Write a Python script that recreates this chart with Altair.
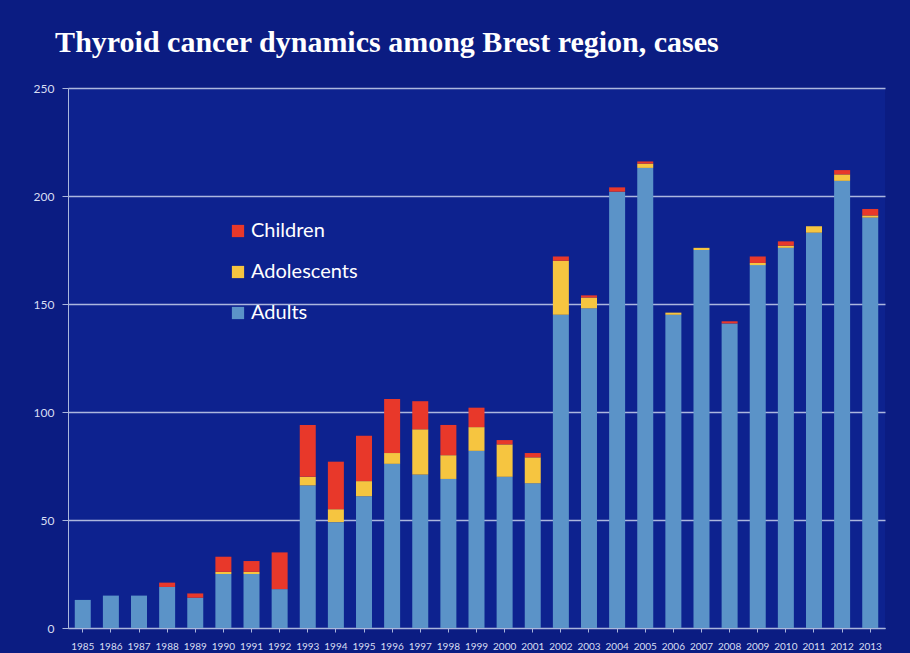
import altair as alt
import pandas as pd

years = [str(y) for y in range(1985, 2014)]
adults = [13, 15, 15, 19, 14, 25, 25, 18, 66, 49, 61, 76, 71, 69, 82, 70, 67,
          145, 148, 202, 213, 145, 175, 141, 168, 176, 183, 207, 190]
adolescents = [0, 0, 0, 0, 0, 1, 1, 0, 4, 6, 7, 5, 21, 11, 11, 15, 12,
               25, 5, 0, 2, 1, 1, 0, 1, 1, 3, 3, 1]
children = [0, 0, 0, 2, 2, 7, 5, 17, 24, 22, 21, 25, 13, 14, 9, 2, 2,
            2, 1, 2, 1, 0, 0, 1, 3, 2, 0, 2, 3]

groups = ["Children", "Adolescents", "Adults"]
colors = ["#e8382a", "#f6c540", "#5b93c8"]
stack_rank = {"Adults": 0, "Adolescents": 1, "Children": 2}

rows = []
for i, y in enumerate(years):
    for g, vals in (("Adults", adults), ("Adolescents", adolescents), ("Children", children)):
        rows.append({"year": y, "group": g, "cases": vals[i], "rank": stack_rank[g]})
df = pd.DataFrame(rows)

label_font = "Lato"

chart = alt.Chart(df).mark_bar(size=16).encode(
    x=alt.X("year:N", title=None, sort=years,
            scale=alt.Scale(paddingInner=0.45, paddingOuter=0.25),
            axis=alt.Axis(labelAngle=0, labelFontSize=10, labelColor="#d8def2",
                          labelFont=label_font, domainColor="#aab6dc", tickColor="#aab6dc",
                          tickSize=4, labelPadding=9, grid=False)),
    y=alt.Y("cases:Q", title=None, stack="zero",
            scale=alt.Scale(domain=[0, 250], nice=False),
            axis=alt.Axis(values=[0, 50, 100, 150, 200, 250], labelFontSize=12,
                          labelColor="#d8def2", labelFont=label_font,
                          domainColor="#aab6dc", tickColor="#aab6dc", tickSize=6,
                          labelPadding=8, gridColor="#c9d1ec", gridWidth=1.3,
                          gridOpacity=0.85)),
    color=alt.Color("group:N", scale=alt.Scale(domain=groups, range=colors),
                    legend=alt.Legend(title=None, orient="none", legendX=160, legendY=133,
                                      symbolType="square", symbolSize=150,
                                      symbolStrokeWidth=0, labelFontSize=20,
                                      labelColor="#ffffff", labelFont=label_font,
                                      rowPadding=21, labelOffset=3)),
    order=alt.Order("rank:Q", sort="ascending"),
).properties(
    width=817,
    height=540,
    title=alt.TitleParams(
        "Thyroid cancer dynamics among Brest region, cases",
        font="Liberation Serif", fontSize=30, fontWeight="bold", color="#ffffff",
        anchor="start", dx=22, offset=24,
    ),
    padding={"left": 68, "top": 88, "right": 25, "bottom": 25},
    autosize=alt.AutoSizeParams(type="none"),
    background="#0b1c82",
).configure_view(
    fill="#0d228f", stroke=None
)

chart.save("out.html", embed_options={"renderer": "svg", "actions": False})
